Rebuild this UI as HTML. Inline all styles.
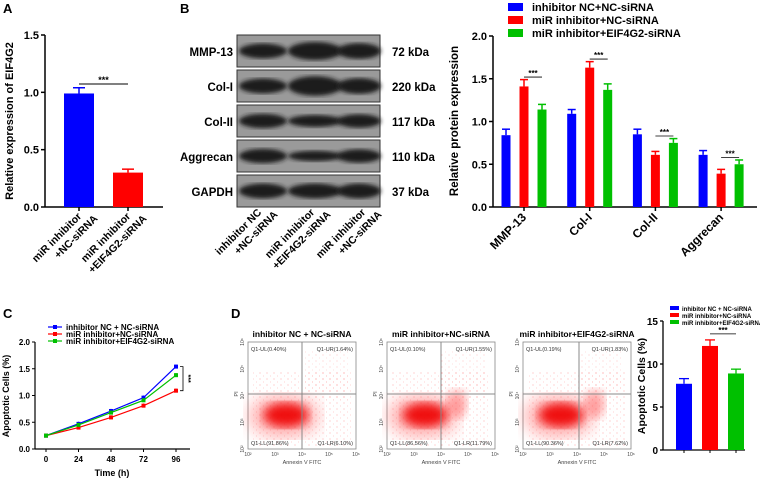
<!DOCTYPE html>
<html><head><meta charset="utf-8"><style>
body{margin:0;background:#fff}
svg{display:block;font-family:"Liberation Sans",Arial,sans-serif;font-weight:bold}
</style></head><body>
<svg id="fig" width="760" height="479" viewBox="0 0 760 479" xmlns="http://www.w3.org/2000/svg">
<defs>
<filter id="blur2"><feGaussianBlur stdDeviation="2"/></filter>
<filter id="blur5"><feGaussianBlur stdDeviation="5"/></filter>
<filter id="blur9"><feGaussianBlur stdDeviation="9"/></filter>
<pattern id="dots" width="7" height="6" patternUnits="userSpaceOnUse"><circle cx="1" cy="1" r="0.6" fill="#f33"/><circle cx="4.5" cy="4" r="0.5" fill="#f55"/></pattern>
</defs>
<text x="3" y="13" font-size="13">A</text>
<text x="180" y="13" font-size="13">B</text>
<text x="3" y="318" font-size="13">C</text>
<text x="231" y="318" font-size="13">D</text>
<g id="gA"></g><g id="blot"></g><g id="gB"></g><g id="gC"></g><g id="gD"></g><g id="gE"></g>
</svg>
<script>
const NS="http://www.w3.org/2000/svg";
function mk(tag,attrs,parent,txt){const e=document.createElementNS(NS,tag);for(const k in attrs)e.setAttribute(k,attrs[k]);if(txt!==undefined)e.textContent=txt;parent.appendChild(e);return e;}

// ---------- Panel A data ----------
const aCats=["miR inhibitor|+NC-siRNA","miR inhibitor|+EIF4G2-siRNA"];
const aVals=[0.99,0.30];
const aErr=[0.05,0.03];
const aColors=["#0000ff","#ff0000"];
const aTicks=[0,0.5,1.0,1.5];
// ---------- Panel B data ----------
const bCats=["MMP-13","Col-I","Col-II","Aggrecan"];
const bSeries=["inhibitor NC+NC-siRNA","miR inhibitor+NC-siRNA","miR inhibitor+EIF4G2-siRNA"];
const bBlue=[0.84,1.09,0.85,0.61];
const bRed=[1.41,1.63,0.61,0.39];
const bGreen=[1.14,1.37,0.75,0.50];
const bErrBlue=[0.07,0.05,0.06,0.05];
const bErrRed=[0.08,0.07,0.04,0.05];
const bErrGreen=[0.06,0.07,0.05,0.05];
const bTicks=[0,0.5,1.0,1.5,2.0];
// ---------- Panel C data ----------
const cTimes=[0,24,48,72,96];
const cSeries=["inhibitor NC + NC-siRNA","miR inhibitor+NC-siRNA","miR inhibitor+EIF4G2-siRNA"];
const cBlue=[0.25,0.47,0.71,0.96,1.54];
const cRed=[0.25,0.40,0.59,0.81,1.09];
const cGreen=[0.25,0.45,0.68,0.91,1.38];
const cTicks=[0,0.5,1.0,1.5,2.0];
// ---------- Panel D bar data ----------
const eCats=["inhibitor NC + NC-siRNA","miR inhibitor+NC-siRNA","miR inhibitor+EIF4G2-siRNA"];
const eVals=[7.7,12.1,8.9];
const eErr=[0.6,0.7,0.5];
const eTicks=[0,5,10,15];
// ---------- flow quadrant data ----------
const fTitles=["inhibitor NC + NC-siRNA","miR inhibitor+NC-siRNA","miR inhibitor+EIF4G2-siRNA"];
const fUL=["0.40","0.10","0.19"];
const fUR=["1.64","1.55","1.83"];
const fLL=["91.86","86.56","90.36"];
const fLR=["6.10","11.79","7.62"];

const COL=["#0000ff","#ff0000","#00c000"];

// ===== Panel A =====
(function(){
const g=document.getElementById('gA');
const x0=45,x1=163,yTop=35,yBot=207,max=1.5;
const y=v=>yBot-(v/max)*(yBot-yTop);
const bx=i=>79+i*49;
let ax=mk('line',{x1:x0,y1:yTop,x2:x0,y2:yBot,stroke:'#000','stroke-width':1.5},g);

ax=mk('line',{x1:x0,y1:yBot,x2:x1,y2:yBot,stroke:'#000','stroke-width':1.5},g);

aTicks.forEach(t=>{mk('line',{x1:x0-4,y1:y(t),x2:x0,y2:y(t),stroke:'#000','stroke-width':1.5},g);
 const tl=mk('text',{x:x0-6,y:y(t)+4,'font-size':11,'text-anchor':'end'},g,t.toFixed(1));
 });
aVals.forEach((v,i)=>{const cx=bx(i);
 const r=mk('rect',{x:cx-15,y:y(v),width:30,height:yBot-y(v),fill:aColors[i]},g);
 
 mk('line',{x1:cx,y1:y(v),x2:cx,y2:y(v+aErr[i]),stroke:aColors[i],'stroke-width':1.5},g);
 mk('line',{x1:cx-6,y1:y(v+aErr[i]),x2:cx+6,y2:y(v+aErr[i]),stroke:aColors[i],'stroke-width':1.5},g);
 mk('line',{x1:cx,y1:yBot,x2:cx,y2:yBot+4,stroke:'#000','stroke-width':1.5},g);
 const p=aCats[i].split('|');
 const t=mk('text',{'font-size':10.5,'text-anchor':'end',transform:`translate(${cx+3},${yBot+10}) rotate(-45)`},g);
 
 mk('tspan',{x:0,y:0},t,p[0]);mk('tspan',{x:10,y:13},t,p[1]);
});
mk('line',{x1:bx(0),y1:84,x2:bx(1),y2:84,stroke:'#000'},g);
const s=mk('text',{x:(bx(0)+bx(1))/2,y:83,'font-size':9,'text-anchor':'middle'},g,'***');

const yt=mk('text',{'font-size':11,'text-anchor':'middle',transform:'translate(13,121) rotate(-90)'},g,'Relative expression of EIF4G2');

})();

// ===== Western blot =====
(function(){
const g=document.getElementById('blot');
const rows=[["MMP-13","72 kDa",35,[1,1.2,1.05]],["Col-I","220 kDa",70,[1,1.3,1.05]],["Col-II","117 kDa",105,[0.95,0.8,0.9]],["Aggrecan","110 kDa",140,[0.95,0.7,0.9]],["GAPDH","37 kDa",175,[1,1,1]]];
rows.forEach((r,i)=>{
 const bg=mk('rect',{x:237,y:r[2],width:143,height:32,fill:'#9a9a9a',stroke:'#333','stroke-width':1},g);
 
 [263,315,359].forEach((cx,j)=>{const w=[24,27,22][j];
  mk('ellipse',{cx:cx,cy:r[2]+16,rx:w,ry:7.5*r[3][j],fill:'#1a1a1a',filter:'url(#blur2)'},g);});
 const l=mk('text',{x:233,y:r[2]+21,'font-size':11.5,'text-anchor':'end'},g,r[0]);
 
 const k=mk('text',{x:392,y:r[2]+21,'font-size':11.5},g,r[1]);
 
});
const lanes=[["inhibitor NC","+NC-siRNA"],["miR inhibitor","+EIF4G2-siRNA"],["miR inhibitor","+NC-siRNA"]];
[262,315,366].forEach((cx,i)=>{
 const t=mk('text',{'font-size':10.5,'text-anchor':'end',transform:`translate(${cx},${213}) rotate(-45)`},g);
 
 mk('tspan',{x:0,y:0},t,lanes[i][0]);mk('tspan',{x:10,y:13},t,lanes[i][1]);
});
})();

// ===== Panel B chart =====
(function(){
const g=document.getElementById('gB');
const x0=493,x1=757,yTop=36,yBot=207,max=2;
const y=v=>yBot-(v/max)*(yBot-yTop);
const gx=i=>524+i*65.7;
mk('line',{x1:x0,y1:yTop,x2:x0,y2:yBot,stroke:'#000','stroke-width':1.5},g);
mk('line',{x1:x0,y1:yBot,x2:x1,y2:yBot,stroke:'#000','stroke-width':1.5},g);
bTicks.forEach(t=>{mk('line',{x1:x0-4,y1:y(t),x2:x0,y2:y(t),stroke:'#000','stroke-width':1.5},g);
 const tl=mk('text',{x:x0-6,y:y(t)+4,'font-size':11,'text-anchor':'end'},g,t.toFixed(1));
 });
const ser=[bBlue,bRed,bGreen],errs=[bErrBlue,bErrRed,bErrGreen];
bCats.forEach((c,i)=>{
 ser.forEach((s,k)=>{const cx=gx(i)+(k-1)*18,v=s[i],e=errs[k][i];
  const r=mk('rect',{x:cx-4.5,y:y(v),width:9,height:yBot-y(v),fill:COL[k]},g);
  
  mk('line',{x1:cx,y1:y(v),x2:cx,y2:y(v+e),stroke:COL[k],'stroke-width':1.5},g);
  mk('line',{x1:cx-4,y1:y(v+e),x2:cx+4,y2:y(v+e),stroke:COL[k],'stroke-width':1.5},g);
 });
 mk('line',{x1:gx(i),y1:yBot,x2:gx(i),y2:yBot+4,stroke:'#000','stroke-width':1.5},g);
 const t=mk('text',{'font-size':12,'text-anchor':'end',transform:`translate(${gx(i)+3},${yBot+11}) rotate(-45)`},g,c);
 
 const top=Math.max(bRed[i]+bErrRed[i],bGreen[i]+bErrGreen[i])+0.03;
 mk('line',{x1:gx(i),y1:y(top),x2:gx(i)+18,y2:y(top),stroke:'#000','stroke-width':0.8},g);
 const st=mk('text',{x:gx(i)+9,y:y(top)-1,'font-size':8,'text-anchor':'middle'},g,'***');
 
});
bSeries.forEach((s,k)=>{
 const r=mk('rect',{x:508,y:3+k*13,width:15,height:8,fill:COL[k]},g);
 
 const t=mk('text',{x:532,y:11+k*13,'font-size':11},g,s);
 
});
const yt=mk('text',{'font-size':11.5,'text-anchor':'middle',transform:'translate(458,121) rotate(-90)'},g,'Relative protein expression');

})();

// ===== Panel C line =====
(function(){
const g=document.getElementById('gC');
const x0=35,x1=190,yTop=342,yBot=449,max=2;
const y=v=>yBot-(v/max)*(yBot-yTop);
const x=t=>46+t/96*130;
mk('line',{x1:x0,y1:yTop,x2:x0,y2:yBot,stroke:'#000','stroke-width':1.2},g);
mk('line',{x1:x0,y1:yBot,x2:x1,y2:yBot,stroke:'#000','stroke-width':1.2},g);
cTicks.forEach(t=>{mk('line',{x1:x0-3,y1:y(t),x2:x0,y2:y(t),stroke:'#000'},g);
 const tl=mk('text',{x:x0-5,y:y(t)+3,'font-size':8,'text-anchor':'end'},g,t.toFixed(1));
 });
cTimes.forEach(t=>{mk('line',{x1:x(t),y1:yBot,x2:x(t),y2:yBot+3,stroke:'#000'},g);
 const tl=mk('text',{x:x(t),y:yBot+13,'font-size':8,'text-anchor':'middle'},g,t);
 });
[cBlue,cRed,cGreen].forEach((s,k)=>{
 const pl=mk('polyline',{points:s.map((v,i)=>x(cTimes[i])+','+y(v)).join(' '),fill:'none',stroke:COL[k],'stroke-width':1.2},g);
 
 s.forEach((v,i)=>{const p=mk('rect',{x:x(cTimes[i])-2,y:y(v)-2,width:4,height:4,fill:COL[k]},g);
  
  mk('line',{x1:x(cTimes[i]),y1:y(v-0.03),x2:x(cTimes[i]),y2:y(v+0.04),stroke:COL[k]},g);});
 mk('line',{x1:48,y1:327+k*7,x2:62,y2:327+k*7,stroke:COL[k],'stroke-width':1.2},g);
 mk('rect',{x:53,y:325+k*7,width:4,height:4,fill:COL[k]},g);
 const t=mk('text',{x:66,y:330+k*7,'font-size':8},g,cSeries[k]);
 
});
const bt=y(cBlue[4]),bb=y(cRed[4]);
mk('polyline',{points:`180,${bt} 183,${bt} 183,${bb} 180,${bb}`,fill:'none',stroke:'#000','stroke-width':0.8},g);
const st=mk('text',{'font-size':7,'text-anchor':'middle',transform:`translate(186,${(bt+bb)/2}) rotate(90)`},g,'***');

const xt=mk('text',{x:112,y:476,'font-size':9,'text-anchor':'middle'},g,'Time (h)');

const yt=mk('text',{'font-size':9,'text-anchor':'middle',transform:'translate(9,396) rotate(-90)'},g,'Apoptotic Cells (%)');

})();

// ===== Flow plots =====
(function(){
const g=document.getElementById('gD');
const boxes=[[248,302,0.9],[387,441,0.85],[523,579,0.85]];
boxes.forEach((b,i)=>{
 const x0=b[0],w=108,yT=342,yB=449,vx=b[1],hy=394;
 const cl=mk('g',{},g);
 
 mk('rect',{x:x0,y:yT,width:w,height:yB-yT,fill:'#fff',stroke:'#888','stroke-width':0.8},cl);
 mk('rect',{x:x0+5,y:yT+30,width:w-10,height:yB-yT-32,fill:'url(#dots)',opacity:0.35},cl);
 mk('rect',{x:vx,y:yT+8,width:x0+w-vx-8,height:50,fill:'url(#dots)',opacity:0.25},cl);
 mk('ellipse',{cx:x0+36,cy:416,rx:34,ry:20,fill:'#ff3030',opacity:0.45,filter:'url(#blur9)'},cl);
 mk('ellipse',{cx:x0+38,cy:415,rx:22,ry:12,fill:'#ee0000',opacity:0.9,filter:'url(#blur5)'},cl);
 if(i>0)mk('ellipse',{cx:vx+16,cy:404,rx:10,ry:14,fill:'#ff4040',opacity:0.45,filter:'url(#blur5)'},cl);
 mk('line',{x1:vx,y1:yT,x2:vx,y2:yB,stroke:'#888','stroke-width':1},cl);
 mk('line',{x1:x0,y1:hy,x2:x0+w,y2:hy,stroke:'#888','stroke-width':1},cl);
 const tt=mk('text',{x:x0+w/2,y:337,'font-size':8.5,'text-anchor':'middle'},cl,fTitles[i]);
 
 const q=[[x0+3,yT+9,'start','Q1-UL('+fUL[i]+'%)'],[x0+w-3,yT+9,'end','Q1-UR('+fUR[i]+'%)'],[x0+3,yB-4,'start','Q1-LL('+fLL[i]+'%)'],[x0+w-3,yB-4,'end','Q1-LR('+fLR[i]+'%)']];
 q.forEach(a=>{const t=mk('text',{x:a[0],y:a[1],'font-size':5.5,'font-weight':'normal','text-anchor':a[2],fill:'#333'},cl,a[3]);
  });
 [0,1,2,3,4].forEach(k=>{
  const tx=mk('text',{x:x0+k*27,y:456,'font-size':5,'font-weight':'normal','text-anchor':'middle',fill:'#444'},cl,'10'+['²','³','⁴','⁵','⁶'][k]);
  
  const ty=mk('text',{'font-size':5,'font-weight':'normal','text-anchor':'middle',fill:'#444',transform:`translate(${x0-4},${yB-k*26.75}) rotate(-90)`},cl,'10'+['²','³','⁴','⁵','⁶'][k]);
  
 });
 const xl=mk('text',{x:x0+w/2,y:464,'font-size':5.5,'font-weight':'normal','text-anchor':'middle',fill:'#444'},cl,'Annexin V FITC');
 
 const yl=mk('text',{'font-size':5.5,'font-weight':'normal','text-anchor':'middle',fill:'#444',transform:`translate(${x0-10},${hy}) rotate(-90)`},cl,'PI');
 
});
})();

// ===== Panel D bar =====
(function(){
const g=document.getElementById('gE');
const x0=663,x1=745,yTop=321,yBot=450,max=15;
const y=v=>yBot-(v/max)*(yBot-yTop);
const bx=i=>684+i*26;
mk('line',{x1:x0,y1:yTop,x2:x0,y2:yBot,stroke:'#000','stroke-width':1.3},g);
mk('line',{x1:x0,y1:yBot,x2:x1,y2:yBot,stroke:'#000','stroke-width':1.3},g);
eTicks.forEach(t=>{mk('line',{x1:x0-3,y1:y(t),x2:x0,y2:y(t),stroke:'#000','stroke-width':1.3},g);
 const tl=mk('text',{x:x0-5,y:y(t)+4,'font-size':10,'text-anchor':'end'},g,t);
 });
eVals.forEach((v,i)=>{const cx=bx(i),e=eErr[i];
 const r=mk('rect',{x:cx-8,y:y(v),width:16,height:yBot-y(v),fill:COL[i]},g);
 
 mk('line',{x1:cx,y1:y(v),x2:cx,y2:y(v+e),stroke:COL[i],'stroke-width':1.3},g);
 mk('line',{x1:cx-5,y1:y(v+e),x2:cx+5,y2:y(v+e),stroke:COL[i],'stroke-width':1.3},g);
 mk('line',{x1:cx,y1:yBot,x2:cx,y2:yBot+3,stroke:'#000'},g);
 mk('rect',{x:670,y:306+i*7,width:9,height:4,fill:COL[i]},g);
 const t=mk('text',{x:682,y:311+i*7,'font-size':6},g,eCats[i]);
 
});
const top=eVals[1]+eErr[1]+0.7;
mk('line',{x1:bx(1),y1:y(top),x2:bx(2),y2:y(top),stroke:'#000','stroke-width':0.8},g);
const st=mk('text',{x:(bx(1)+bx(2))/2,y:y(top)-1,'font-size':8,'text-anchor':'middle'},g,'***');

const yt=mk('text',{'font-size':10.5,'text-anchor':'middle',transform:'translate(645,386) rotate(-90)'},g,'Apoptotic Cells (%)');

})();
</script>
</body></html>
